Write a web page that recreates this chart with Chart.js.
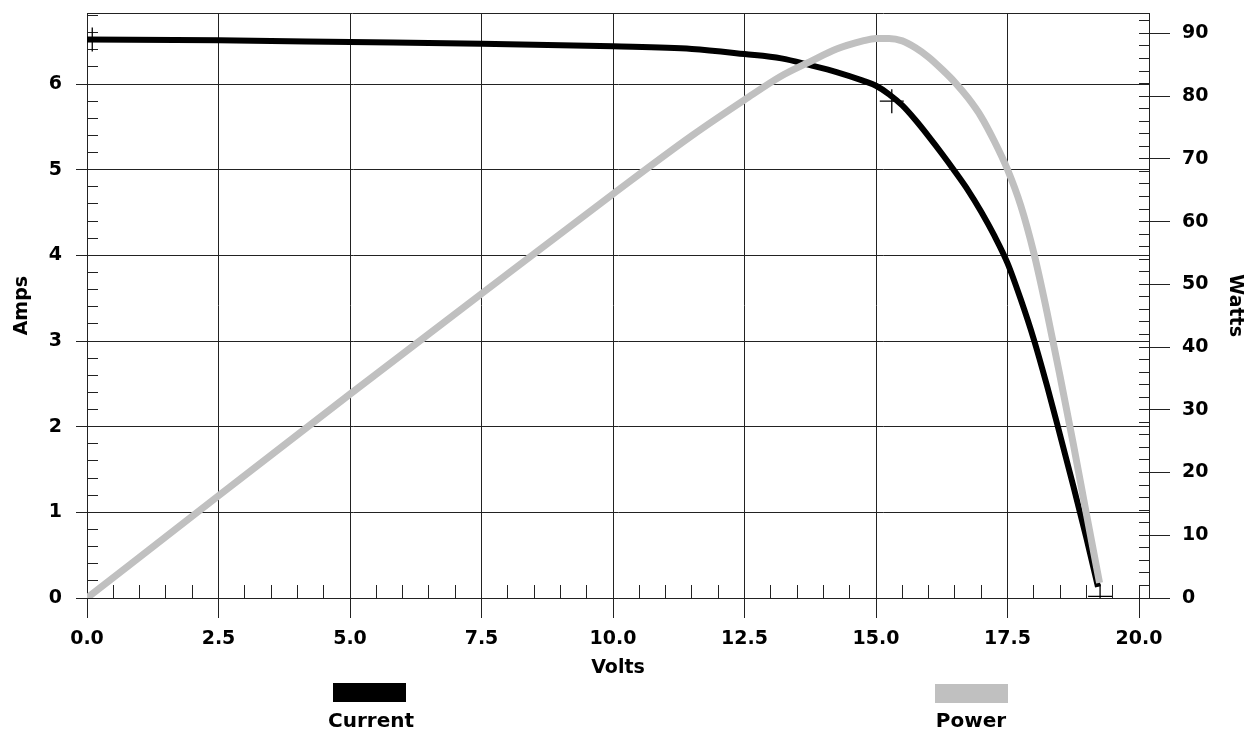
<!DOCTYPE html>
<html>
<head>
<meta charset="utf-8">
<title>Panel I-V curve</title>
<script src="https://cdn.jsdelivr.net/npm/chart.js@4.4.1/dist/chart.umd.min.js"></script>
<style>
  html, body { margin: 0; padding: 0; background: #fff; }
  #wrap { position: relative; width: 1254px; height: 731px; }
  .key { position: absolute; width: 73px; height: 19px; }
  .key-label { position: absolute; width: 140px; text-align: center; color: #000;
               font: bold 20px "DejaVu Sans", Verdana, sans-serif; line-height: 20px; }
</style>
</head>
<body>
<div id="wrap">
  <canvas id="ivChart"></canvas>
  <div class="key" style="left:333px;top:683px;background:#000"></div>
  <div class="key-label" style="left:301px;top:710px">Current</div>
  <div class="key" style="left:935px;top:684px;background:#c0c0c0"></div>
  <div class="key-label" style="left:901px;top:710px">Power</div>
</div>
<script>
'use strict';

// I-V sweep
const currentVolts = [0, 2.5, 5, 7.5, 10, 11.5, 12.5, 13.2, 13.75, 14.25, 14.75, 15, 15.25, 15.5, 15.75, 16, 16.25, 16.5, 16.75, 17, 17.25, 17.5, 17.75, 18, 18.25, 18.5, 18.75, 19, 19.22];
const currentAmps = [6.52, 6.51, 6.49, 6.47, 6.44, 6.41, 6.35, 6.30, 6.22, 6.14, 6.04, 5.98, 5.88, 5.75, 5.58, 5.39, 5.19, 4.98, 4.76, 4.51, 4.23, 3.91, 3.49, 3.02, 2.48, 1.90, 1.31, 0.70, 0.13];

const powerVolts = [0, 2.5, 5, 7.5, 10, 11.5, 12.5, 13.2, 13.75, 14.25, 14.75, 15, 15.25, 15.5, 15.75, 16, 16.25, 16.5, 16.75, 17, 17.25, 17.5, 17.75, 18, 18.25, 18.5, 18.75, 19, 19.25];
const powerWatts = [0, 16.3, 32.5, 48.5, 64.4, 73.7, 79.4, 83.2, 85.5, 87.5, 88.8, 89.2, 89.2, 88.8, 87.7, 86.2, 84.3, 82.2, 79.7, 76.7, 72.8, 68.3, 62.6, 55.0, 45.6, 35.3, 24.6, 13.4, 2.4];

// Isc, max power point, Voc
const markerVolts = [0.1, 15.3, 19.26];
const markerAmps = [6.52, 5.80, 0.02];

const voltTicks = [0, 2.5, 5, 7.5, 10, 12.5, 15, 17.5, 20];
const ampTicks = [0, 1, 2, 3, 4, 5, 6];
const wattTicks = [0, 10, 20, 30, 40, 50, 60, 70, 80, 90];

const lineColor = '#222';
const font = { family: '"DejaVu Sans", Verdana, sans-serif', size: 19, weight: 'bold' };

function toPoints(xs, ys) {
    return xs.map((x, i) => ({ x: x, y: ys[i] }));
}

function align(p) {
    return Math.round(p - 0.5) + 0.5;
}

// keep the plot box where the reference has it
function fixSize(prop, size) {
    return (s) => {
        s[prop] = size;
        s.paddingTop = 0;
        s.paddingBottom = 0;
        s.paddingLeft = 0;
        s.paddingRight = 0;
    };
}

/* top frame line and the small inner ticks */
const minorTicks = {
    id: 'minorTicks',
    beforeDatasetsDraw(chart) {
        const { ctx, chartArea: area, scales } = chart;
        ctx.save();
        ctx.strokeStyle = lineColor;
        ctx.lineWidth = 1;
        ctx.beginPath();
        ctx.moveTo(area.left, align(area.top));
        ctx.lineTo(area.right, align(area.top));
        for (let i = 0; i <= 40; i++) {
            const x = align(scales.x.getPixelForValue(i * 0.5));
            ctx.moveTo(x, area.bottom);
            ctx.lineTo(x, area.bottom - 13);
        }
        for (let i = 0; i <= 34; i++) {
            const y = align(scales.amps.getPixelForValue(i * 0.2));
            ctx.moveTo(area.left, y);
            ctx.lineTo(area.left + 11, y);
        }
        for (let i = 0; i <= 46; i++) {
            const y = align(scales.watts.getPixelForValue(i * 2));
            ctx.moveTo(area.right - 10, y);
            ctx.lineTo(area.right, y);
        }
        ctx.stroke();
        ctx.restore();
    }
};

function main() {
    const chart = new Chart(document.getElementById('ivChart'), {
        type: 'scatter',
        data: {
            datasets: [{
                label: 'Markers',
                data: toPoints(markerVolts, markerAmps),
                yAxisID: 'amps',
                pointStyle: 'cross',
                pointRadius: 12,
                borderColor: '#000',
                borderWidth: 1.3,
                order: 0
            }, {
                label: 'Power',
                data: toPoints(powerVolts, powerWatts),
                yAxisID: 'watts',
                showLine: true,
                borderColor: '#c0c0c0',
                borderWidth: 7,
                pointRadius: 0,
                cubicInterpolationMode: 'monotone',
                order: 1
            }, {
                label: 'Current',
                data: toPoints(currentVolts, currentAmps),
                yAxisID: 'amps',
                showLine: true,
                borderColor: '#000',
                borderWidth: 6,
                pointRadius: 0,
                cubicInterpolationMode: 'monotone',
                order: 2
            }]
        },
        options: {
            responsive: true,
            maintainAspectRatio: false,
            animation: false,
            layout: { padding: { top: 11, left: 0, right: 0, bottom: 0 } },
            plugins: {
                legend: { display: false },
                tooltip: { enabled: false }
            },
            scales: {
                x: {
                    type: 'linear',
                    position: 'bottom',
                    min: 0,
                    max: 20.19,
                    afterBuildTicks: (s) => { s.ticks = voltTicks.map(v => ({ value: v })); },
                    afterFit: fixSize('height', 133),
                    ticks: { font: font, color: '#000', padding: 10, maxRotation: 0, autoSkip: false,
                             callback: (v) => Number(v).toFixed(1) },
                    grid: { color: (c) => (c.tick && c.tick.value === 20 ? 'rgba(0,0,0,0)' : lineColor),
                            tickColor: lineColor, tickLength: 20, lineWidth: 1 },
                    border: { display: true, color: lineColor, width: 1 },
                    title: { display: true, text: 'Volts', font: font, color: '#000', padding: { top: 0, bottom: 52 } }
                },
                amps: {
                    type: 'linear',
                    position: 'left',
                    min: 0,
                    max: 6.826,
                    afterBuildTicks: (s) => { s.ticks = ampTicks.map(v => ({ value: v })); },
                    afterFit: fixSize('width', 87),
                    ticks: { font: font, color: '#000', padding: 14 },
                    grid: { color: lineColor, tickLength: 11, lineWidth: 1 },
                    border: { display: true, color: lineColor, width: 1 },
                    title: { display: true, text: 'Amps', font: font, color: '#000', padding: { top: 11, bottom: 0 } }
                },
                watts: {
                    type: 'linear',
                    position: 'right',
                    min: 0,
                    max: 93.2,
                    afterBuildTicks: (s) => { s.ticks = wattTicks.map(v => ({ value: v })); },
                    afterFit: fixSize('width', 105),
                    ticks: { font: font, color: '#000', padding: 12 },
                    grid: { drawOnChartArea: false, color: lineColor, tickLength: 21, lineWidth: 1 },
                    border: { display: true, color: lineColor, width: 1 },
                    title: { display: true, text: 'Watts', font: font, color: '#000', padding: { top: 8, bottom: 0 } }
                }
            }
        },
        plugins: [minorTicks]
    });
}

window.onload = main;
</script>
</body>
</html>
